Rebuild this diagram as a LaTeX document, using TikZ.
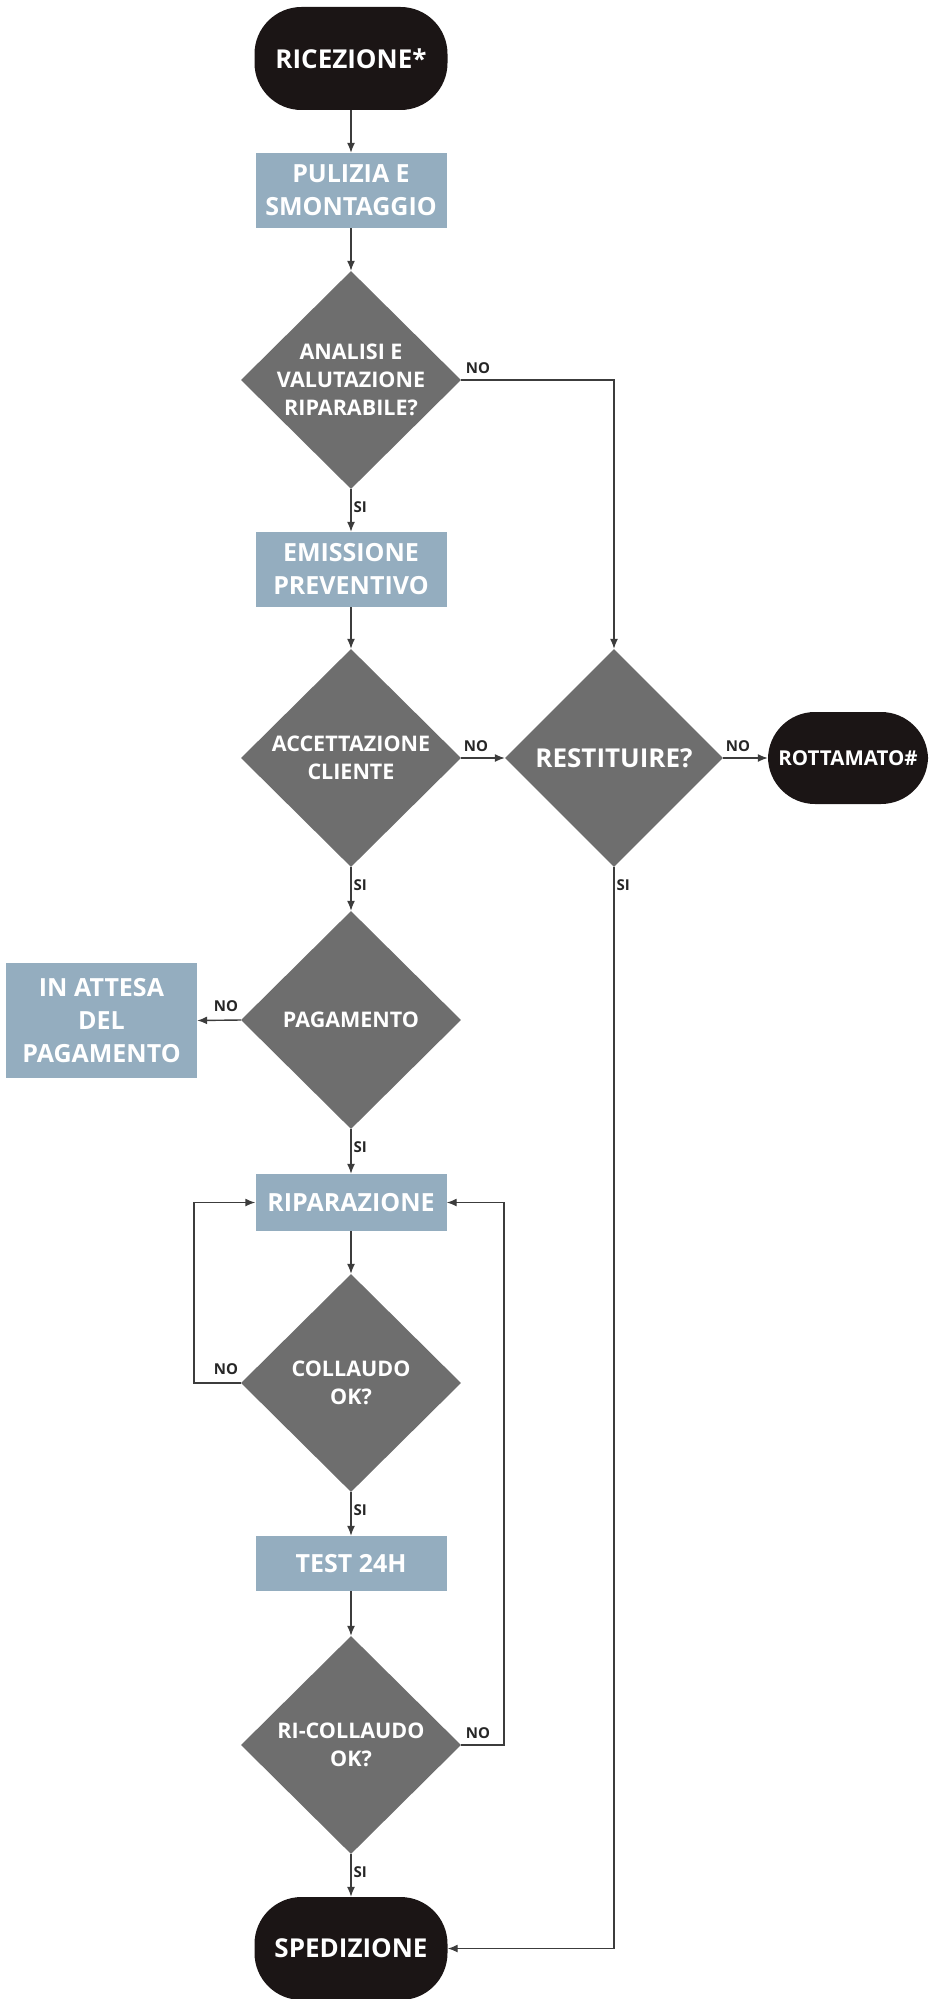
\documentclass[tikz,border=0pt]{standalone}
\usepackage{fontspec}
\setmainfont{Open Sans}
\usetikzlibrary{shapes.geometric,arrows.meta}
\definecolor{termblack}{RGB}{27,21,21}
\definecolor{decgray}{RGB}{110,110,110}
\definecolor{boxblue}{RGB}{148,173,191}
\definecolor{linegray}{RGB}{60,60,60}
\newlength{\lwidth}
\setlength{\lwidth}{1.4pt}

\begin{document}
\begin{tikzpicture}[x=1pt,y=-1pt,
  term/.style={rectangle,rounded corners=47pt,fill=termblack,text=white,
    minimum width=193pt,minimum height=103pt,inner sep=0pt,
    font=\bfseries\fontsize{26}{32}\selectfont},
  stepbox/.style={rectangle,fill=boxblue,text=white,minimum width=191pt,
    inner sep=0pt,align=center,font=\bfseries\fontsize{25}{33}\selectfont},
  decision/.style={diamond,fill=decgray,minimum width=220pt,
    minimum height=218pt,inner sep=0pt},
  dectext/.style={text=white,inner sep=0pt,align=center,
    font=\bfseries\fontsize{21.5}{28}\selectfont},
  flow/.style={draw=linegray,line width=\lwidth,-{Latex[length=10pt,width=8pt]}},
  lbl/.style={inner sep=0pt,text=black!85,font=\bfseries\fontsize{15}{18}\selectfont},
  nolbl/.style={lbl,at start,anchor=base west,xshift=4pt,yshift=7pt},
  nolblleft/.style={lbl,at start,anchor=base east,xshift=-2pt,yshift=9pt},
  silbl/.style={lbl,at start,anchor=base west,xshift=2pt,yshift=-23pt}]
  \useasboundingbox (0,0) rectangle (930,1999);

  %% columns
  %% ------------------------------------
  \pgfmathsetmacro{\colx}{351}
  \pgfmathsetmacro{\colr}{614}
  \pgfmathsetmacro{\loopl}{194}
  \pgfmathsetmacro{\loopr}{504}

  %% main column
  %% ------------------------------------
  \node[term] (ricez) at (\colx,58.5) {RICEZIONE*};
  \node[stepbox,minimum height=75pt] (pulizia) at (\colx,190.5) {PULIZIA E\\SMONTAGGIO};
  \node[decision] (analisi) at (\colx,380) {};
  \node[dectext] (analisiT) at (analisi) {ANALISI E\\VALUTAZIONE\\RIPARABILE?};
  \node[stepbox,minimum height=75pt] (emissione) at (\colx,569.5) {EMISSIONE\\PREVENTIVO};
  \node[decision] (accett) at (\colx,758) {};
  \node[dectext] (accettT) at (accett) {ACCETTAZIONE\\CLIENTE};
  \node[decision] (pagam) at (\colx,1020) {};
  \node[dectext] (pagamT) at (pagam) {PAGAMENTO};
  \node[stepbox,minimum height=57pt] (ripar) at (\colx,1202.5) {RIPARAZIONE};
  \node[decision] (collaudo) at (\colx,1383) {};
  \node[dectext] (collaudoT) at (collaudo) {COLLAUDO\\OK?};
  \node[stepbox,minimum height=55pt] (test) at (\colx,1563.5) {TEST 24H};
  \node[decision] (ricoll) at (\colx,1745) {};
  \node[dectext] (ricollT) at (ricoll) {RI-COLLAUDO\\OK?};
  \node[term] (sped) at (\colx,1948.5) {SPEDIZIONE};

  %% side branches
  %% ------------------------------------
  \node[decision,minimum width=218pt] (restit) at (\colr,758) {};
  \node[dectext,font=\bfseries\fontsize{26}{32}\selectfont] (restitT) at (restit) {RESTITUIRE?};
  \node[term,minimum width=160pt,minimum height=92pt,
        font=\bfseries\fontsize{20.5}{26}\selectfont] (rottam) at (848,758) {ROTTAMATO\#};
  \node[stepbox,minimum height=115pt] (attesa) at (101.5,1020.5) {IN ATTESA\\DEL\\PAGAMENTO};

  %% loop corners
  \coordinate (cl) at (\loopl,1383);
  \coordinate (cr) at (\loopr,1745);

  %% connectors
  %% ------------------------------------
  \draw[flow] (ricez) -- (pulizia);
  \draw[flow] (pulizia) -- (analisi);
  \draw[flow] (analisi) -- node[silbl]{SI} (emissione);
  \draw[flow] (analisi.east) -| node[nolbl]{NO} (restit.north);
  \draw[flow] (emissione) -- (accett);
  \draw[flow] (accett.east) -- node[nolbl,xshift=-2pt]{NO} (restit.west);
  \draw[flow] (restit.east) -- node[nolbl,xshift=-2pt]{NO} (rottam.west);
  \draw[flow] (restit.south) |- node[silbl]{SI} (sped.east);
  \draw[flow] (accett) -- node[silbl]{SI} (pagam);
  \draw[flow] (pagam.west) -- node[nolblleft]{NO} (attesa.east);
  \draw[flow] (pagam) -- node[silbl]{SI} (ripar);
  \draw[flow] (ripar) -- (collaudo);
  \draw[flow] (collaudo.west) -- node[nolblleft]{NO} (cl) |- (ripar.west);
  \draw[flow] (collaudo) -- node[silbl]{SI} (test);
  \draw[flow] (test) -- (ricoll);
  \draw[flow] (ricoll.east) -- node[nolbl]{NO} (cr) |- (ripar.east);
  \draw[flow] (ricoll) -- node[silbl]{SI} (sped);
\end{tikzpicture}
\end{document}
